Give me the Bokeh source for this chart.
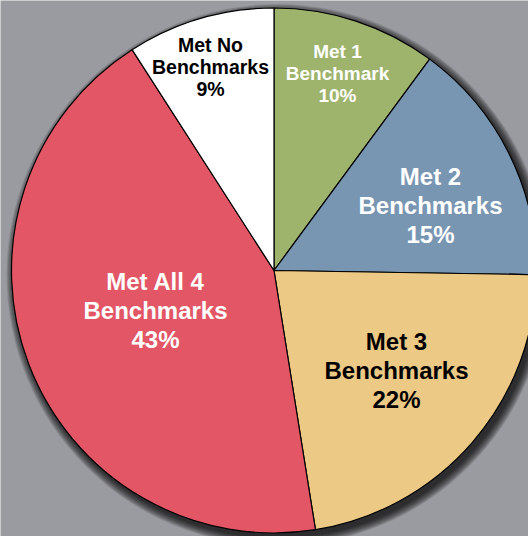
import math
from bokeh.plotting import figure
from bokeh.models import Range1d, ColumnDataSource
from bokeh.core.properties import value
from bokeh.embed import file_html
from bokeh.resources import INLINE

# ---- data ----
categories = ["Met 1 Benchmark", "Met 2 Benchmarks", "Met 3 Benchmarks",
              "Met All 4 Benchmarks", "Met No Benchmarks"]
percents = [10, 15, 22, 43, 9]
label_lines = ["Met 1\nBenchmark\n10%", "Met 2\nBenchmarks\n15%",
               "Met 3\nBenchmarks\n22%", "Met All 4\nBenchmarks\n43%",
               "Met No\nBenchmarks\n9%"]
colors = ["#9eb36c", "#7895b2", "#ecc985", "#e25665", "#ffffff"]
text_colors = ["#ffffff", "#ffffff", "#000000", "#ffffff", "#000000"]
font_sizes = ["19px", "24px", "24px", "24px", "19.5px"]

# ---- layout ----
W, H = 528, 536
BG = "#9a9ba0"
cx, cy, R = 273.5, 266.0, 262.5
# label offsets from pie centre (pixels)
label_offsets = [(63.5, 197), (156.5, 65), (122.5, -100), (-118.5, -40), (-63.5, 204)]
line_heights = [1.03, 1.07, 1.07, 1.07, 1.0]

total = sum(percents)
starts, ends = [], []
cum = 0.0
for v in percents:
    a0 = math.pi / 2 - 2 * math.pi * cum / total
    cum += v
    a1 = math.pi / 2 - 2 * math.pi * cum / total
    starts.append(a1)
    ends.append(a0)

src = ColumnDataSource(dict(
    x=[cx] * len(percents), y=[cy] * len(percents),
    start=starts, end=ends, color=colors, cat=categories))

p = figure(width=W, height=H, output_backend="svg", toolbar_location=None,
           x_range=Range1d(0, W), y_range=Range1d(0, H),
           min_border=0, background_fill_color=BG, border_fill_color=BG,
           outline_line_color=None)
p.axis.visible = False
p.grid.visible = False

# soft shadow
for i in range(9):
    p.circle(x=[cx + 3.5], y=[cy - 4.5], radius=R + 0.5 + i * 1.0,
             fill_color="black", fill_alpha=0.12, line_color=None)

p.wedge(x="x", y="y", radius=R, start_angle="start", end_angle="end",
        fill_color="color", line_color="black", line_width=1.2, source=src)

lsrc = ColumnDataSource(dict(
    x=[cx + dx for dx, dy in label_offsets],
    y=[cy + dy for dx, dy in label_offsets],
    text=label_lines, tc=text_colors, fs=font_sizes, lh=line_heights))
p.text(x="x", y="y", text="text", text_color="tc", text_font_size="fs",
       text_font=value("Liberation Sans"), text_font_style="bold",
       text_align="center", text_baseline="middle", text_line_height="lh",
       source=lsrc)

html = file_html(p, INLINE)
html = html.replace(
    "<body>",
    '<body style="background-color:%s;margin:0;overflow:hidden;">' % BG, 1)
open("out.html", "w").write(html)
